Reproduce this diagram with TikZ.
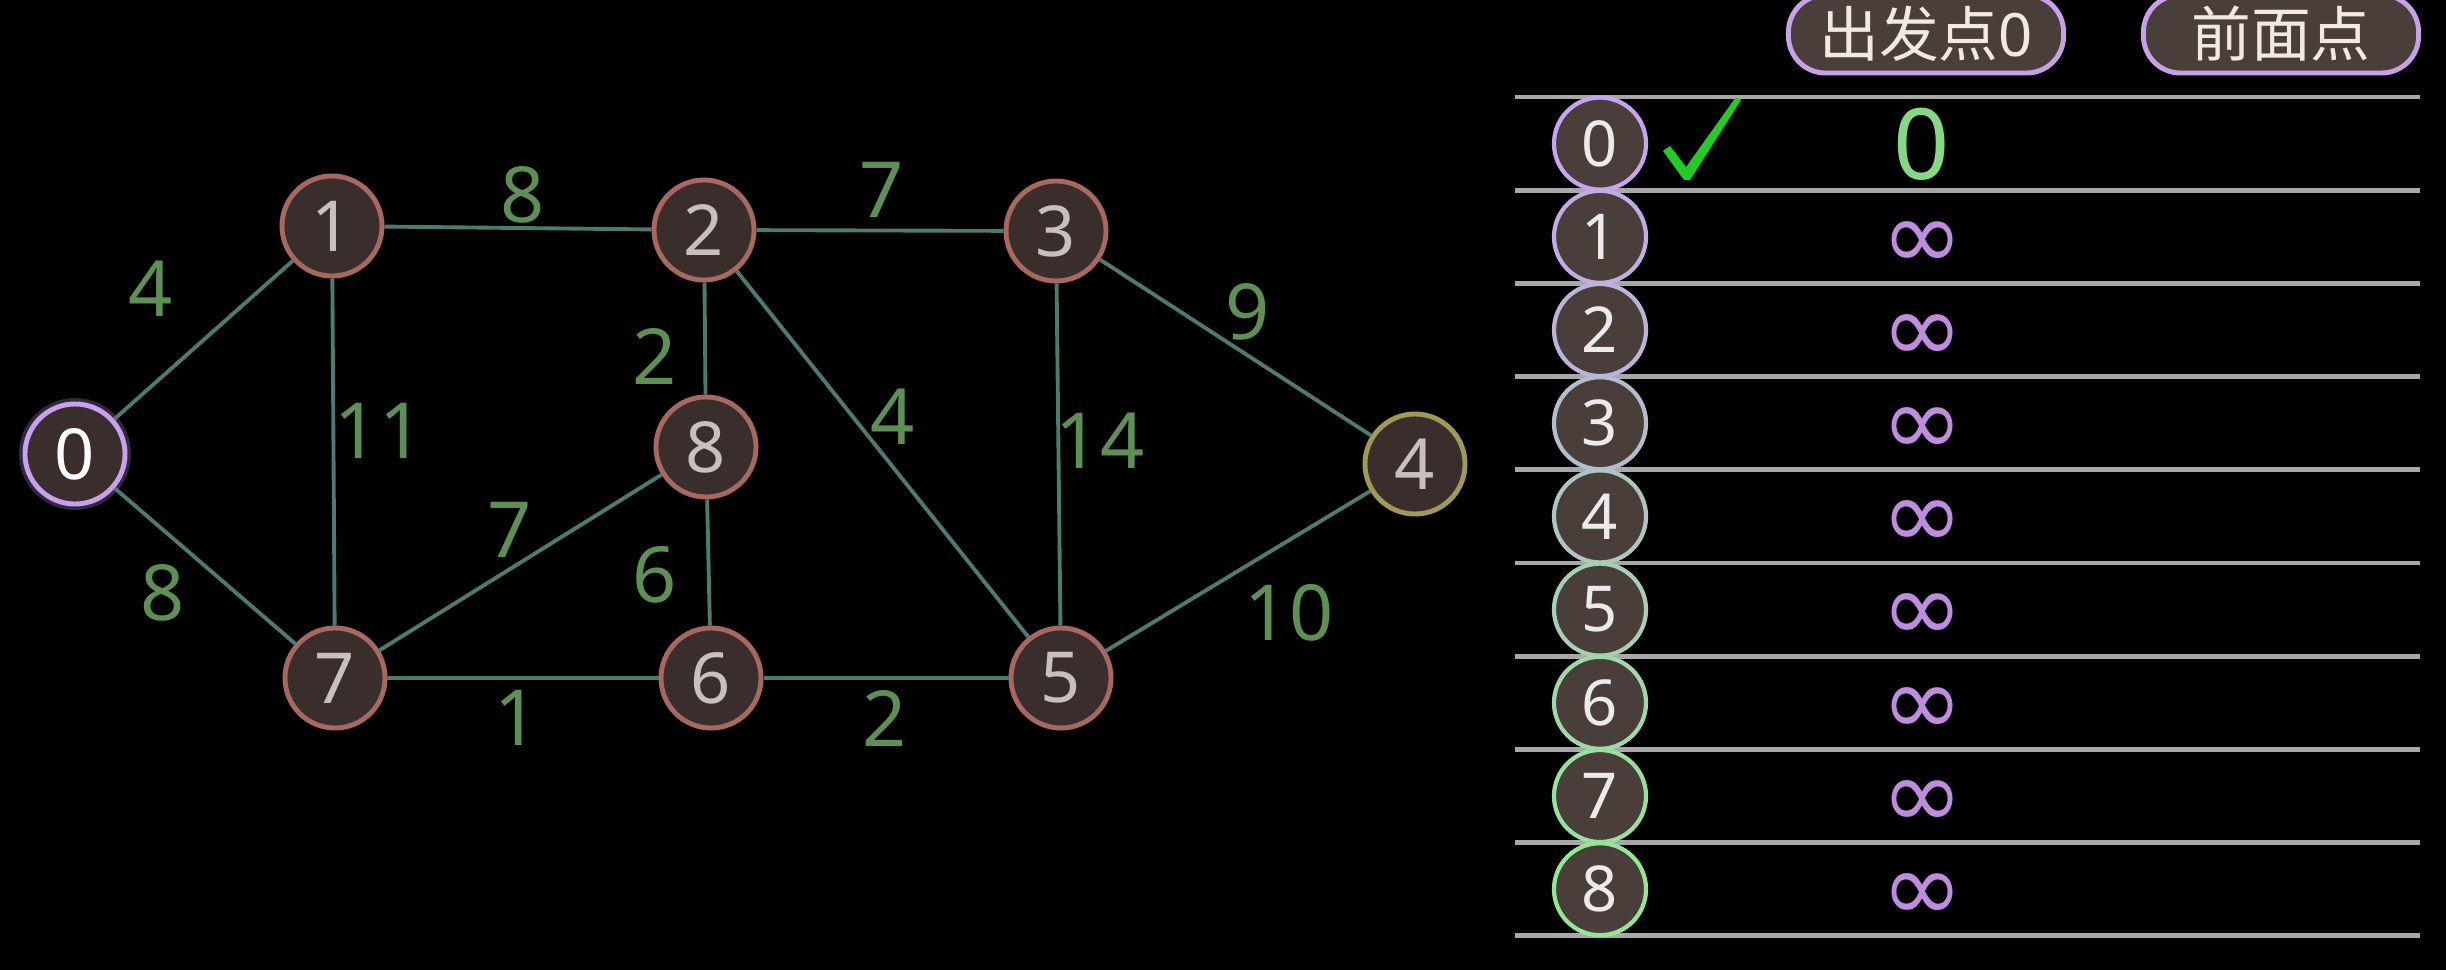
\documentclass[tikz,border=0pt]{standalone}
\usepackage{fontspec}
\setmainfont{Noto Sans}
\newfontfamily\cjk{Noto Sans CJK SC}
\newfontfamily\djv{DejaVu Sans}
\definecolor{edgec}{HTML}{4E7A72}
\definecolor{lblc}{HTML}{5E8F55}
\definecolor{nodeborder}{HTML}{A8685F}
\definecolor{nodefill}{HTML}{3A2E2C}
\definecolor{nodetext}{HTML}{C8C0BC}
\definecolor{nzero}{HTML}{C8A0EE}
\definecolor{nfour}{HTML}{A09A58}
\definecolor{tfill}{HTML}{4A3E3B}
\definecolor{rulec}{HTML}{A8A8A8}
\definecolor{infc}{HTML}{C08CE0}
\definecolor{greenzero}{HTML}{86D886}
\definecolor{checkc}{HTML}{22CC22}
\definecolor{btnborder}{HTML}{C8A0E8}
\definecolor{btntext}{HTML}{F2EAE2}
\definecolor{lav}{HTML}{C8A4F0}
\definecolor{grn}{HTML}{92E892}
\colorlet{tc0}{lav}
\colorlet{tc1}{lav!88!grn}
\colorlet{tc2}{lav!76!grn}
\colorlet{tc3}{lav!63!grn}
\colorlet{tc4}{lav!50!grn}
\colorlet{tc5}{lav!37!grn}
\colorlet{tc6}{lav!24!grn}
\colorlet{tc7}{lav!12!grn}
\colorlet{tc8}{grn}
\tikzset{
 gnode/.style={circle, minimum size=1cm, inner sep=0pt, fill=nodefill, draw=nodeborder, line width=1.4pt, text=nodetext, font=\fontsize{20}{22}\selectfont},
 edgeline/.style={draw=edgec, line width=1.1pt},
 lbl/.style={text=lblc, font=\fontsize{22}{24}\selectfont, inner sep=0pt},
 tnode/.style={circle, minimum size=0.92cm, inner sep=0pt, fill=tfill, line width=1.2pt, text=white!92!black, font=\fontsize{18}{20}\selectfont},
 rulel/.style={draw=rulec, line width=1.4pt},
 infl/.style={text=infc, font=\djv\fontsize{28}{29}\selectfont, inner sep=0pt},
 btn/.style={rounded corners=0.37cm, fill=tfill, draw=btnborder, line width=1.4pt, minimum width=2.75cm, minimum height=0.78cm, text=btntext, font=\cjk\fontsize{17}{18}\selectfont, inner sep=0pt}
}
\begin{document}
\begin{tikzpicture}[x=0.01cm,y=-0.01cm]
\fill[black] (0,0) rectangle (2446,970);
\useasboundingbox (0,0) rectangle (2446,970);

% graph nodes
\fill[nzero, opacity=0.25] (75,454) circle (56);
\node[gnode, draw=nzero, text=white] (n0) at (75,454) {0};
\node[gnode] (n1) at (332,226) {1};
\node[gnode] (n2) at (704,230) {2};
\node[gnode] (n3) at (1056,231) {3};
\node[gnode, draw=nfour] (n4) at (1415,464) {4};
\node[gnode] (n5) at (1061,678) {5};
\node[gnode] (n6) at (711,678) {6};
\node[gnode] (n7) at (335,678) {7};
\node[gnode] (n8) at (706,447) {8};

% edges
\draw[edgeline] (n0) -- (n1);
\draw[edgeline] (n0) -- (n7);
\draw[edgeline] (n1) -- (n2);
\draw[edgeline] (n1) -- (n7);
\draw[edgeline] (n2) -- (n3);
\draw[edgeline] (n2) -- (n8);
\draw[edgeline] (n2) -- (n5);
\draw[edgeline] (n3) -- (n4);
\draw[edgeline] (n3) -- (n5);
\draw[edgeline] (n4) -- (n5);
\draw[edgeline] (n7) -- (n8);
\draw[edgeline] (n7) -- (n6);
\draw[edgeline] (n8) -- (n6);
\draw[edgeline] (n6) -- (n5);

% edge labels
\node[lbl] (l01) at (151,289) {4};
\node[lbl] (l12) at (523,195) {8};
\node[lbl] (l23) at (882,190) {7};
\node[lbl] (l34) at (1248,312) {9};
\node[lbl] (l45) at (1289,613) {10};
\node[lbl] (l35) at (1100,441) {14};
\node[lbl] (l25) at (893,417) {4};
\node[lbl] (l28) at (655,356) {2};
\node[lbl] (l17) at (379,431) {11};
\node[lbl] (l78) at (510,530) {7};
\node[lbl] (l86) at (655,575) {6};
\node[lbl] (l07) at (163,593) {8};
\node[lbl] (l76) at (517,718) {1};
\node[lbl] (l65) at (885,718) {2};

% header buttons
\node[btn] (b1) at (1926,34) {出发点\fontspec{Noto Sans}0};
\node[btn] (b2) at (2281,34) {前面点};

% table rules
\foreach \k in {0,...,9} {
  \draw[rulel] (1515,{97+93.2*\k}) -- (2420,{97+93.2*\k});
}

% table vertices
\foreach \k in {0,...,8} {
  \node[tnode, draw=tc\k] (t\k) at (1600,{143.6+93.2*\k}) {\k};
}

% check mark
\fill[checkc] (1663,151) -- (1670,146) -- (1686,167) -- (1736,97) -- (1741,100) -- (1690,180) -- (1684,180) -- cycle;

% values
\node[text=greenzero, font=\fontsize{28}{29}\selectfont, inner sep=0pt] (v0) at (1922,144) {0};
\foreach \k in {1,...,8} {
  \node[infl] (v\k) at (1922,{152+93.2*\k}) {∞};
}
\end{tikzpicture}
\end{document}
